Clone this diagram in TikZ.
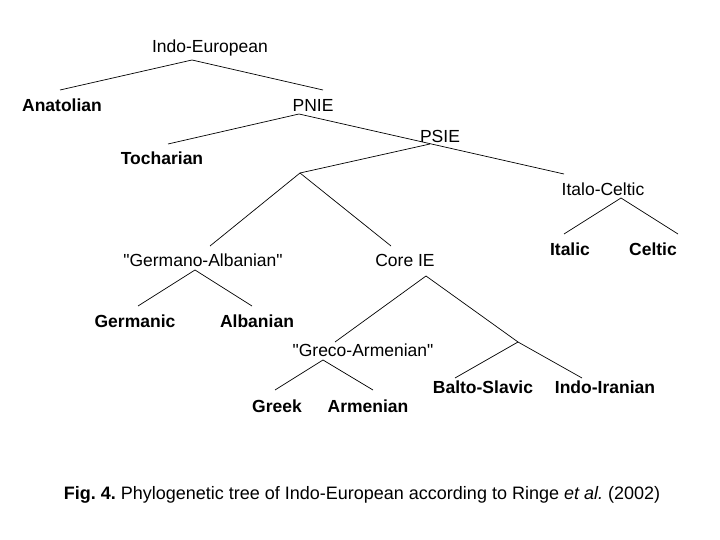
\documentclass[tikz,border=0pt]{standalone}
\usepackage{fontspec}
\setmainfont{Liberation Sans}[Ligatures=TeXOff]
\frenchspacing
\begin{document}
\begin{tikzpicture}[x=1pt,y=-1pt,
  clade/.style={inner sep=0pt, text height=12.5pt, text depth=0pt, font=\fontsize{17.5}{20}\selectfont},
  lang/.style={clade, font=\fontsize{17.5}{20}\selectfont\bfseries},
  branch/.style={line width=0.7pt}]
\useasboundingbox (0,0) rectangle (720,540);

% labels
\node[clade] (ie) at (210,46) {Indo-European};
\node[lang] (anat) at (62,105) {Anatolian};
\node[clade] (pnie) at (313,105) {PNIE};
\node[lang] (toch) at (162,158) {Tocharian};
\node[clade] (psie) at (440,136) {PSIE};
\node[clade] (itce) at (603,189) {Italo-Celtic};
\node[lang] (italic) at (570,249) {Italic};
\node[lang] (celtic) at (653,249) {Celtic};
\node[clade] (germalb) at (203,260) {"Germano-Albanian"};
\node[clade] (coreie) at (405,260) {Core IE};
\node[lang] (germ) at (135,321) {Germanic};
\node[lang] (alb) at (257,321) {Albanian};
\node[clade] (grarm) at (363,350) {"Greco-Armenian"};
\node[lang] (greek) at (277,406) {Greek};
\node[lang] (armen) at (368,406) {Armenian};
\node[lang] (balt) at (483,387) {Balto-Slavic};
\node[lang] (indir) at (605,387) {Indo-Iranian};

\node[clade, font=\fontsize{18}{20}\selectfont] (caption) at (362,493) {\textbf{Fig. 4.} Phylogenetic tree of Indo-European according to Ringe \textit{et al.} (2002)};

% branch points
\coordinate (ie-b) at (192,60);
\coordinate (anat-t) at (60,90);
\coordinate (pnie-t) at (323,90);
\coordinate (pnie-b) at (299,114);
\coordinate (toch-t) at (168,144);
\coordinate (itce-t) at (564,174);
\coordinate (psie-b) at (430,144);
\coordinate (psie-j) at (300,173);
\coordinate (ga-t) at (210,246);
\coordinate (core-t) at (391,246);
\coordinate (itce-b) at (621,198);
\coordinate (italic-t) at (564,234);
\coordinate (celtic-t) at (678,234);
\coordinate (ga-b) at (195,270);
\coordinate (germ-t) at (138,306);
\coordinate (alb-t) at (252,306);
\coordinate (core-b) at (426,276);
\coordinate (grarm-t) at (335,342);
\coordinate (core-j) at (518,342);
\coordinate (grarm-b) at (323,360);
\coordinate (greek-t) at (275,390);
\coordinate (armen-t) at (373,390);
\coordinate (balt-t) at (455,378);
\coordinate (indir-t) at (582,378);

% branches
\draw[branch] (anat-t) -- (ie-b) -- (pnie-t);
\draw[branch] (toch-t) -- (pnie-b) -- (itce-t);
\draw[branch] (psie-b) -- (psie-j);
\draw[branch] (ga-t) -- (psie-j) -- (core-t);
\draw[branch] (italic-t) -- (itce-b) -- (celtic-t);
\draw[branch] (germ-t) -- (ga-b) -- (alb-t);
\draw[branch] (grarm-t) -- (core-b) -- (core-j);
\draw[branch] (greek-t) -- (grarm-b) -- (armen-t);
\draw[branch] (balt-t) -- (core-j) -- (indir-t);
\end{tikzpicture}
\end{document}
